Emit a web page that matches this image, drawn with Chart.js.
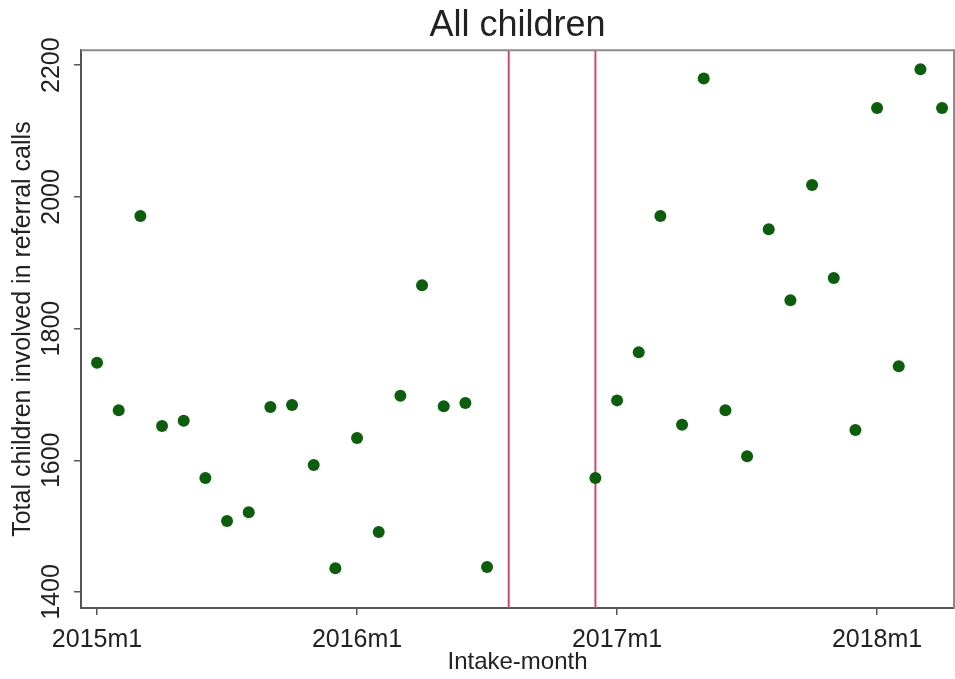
<!DOCTYPE html>
<html>
<head>
<meta charset="utf-8">
<script src="https://cdn.jsdelivr.net/npm/chart.js@4.4.1/dist/chart.umd.min.js"></script>
<style>
  html, body { margin: 0; padding: 0; background: #fff; }
  #wrap { width: 955px; height: 679px; }
</style>
</head>
<body>
<div id="wrap"><canvas id="c" width="955" height="679"></canvas></div>
<script>
// Month index (0 = 2015m1)
const monthIndex = [0,1,2,3,4,5,6,7,8,9,10,11,12,13,14,15,16,17,18,
                    23,24,25,26,27,28,29,30,31,32,33,34,35,36,37,38,39];
// Total children involved in referral calls
const childrenCounts = [1748,1676,1971,1652,1660,1573,1508,1521,1681,1684,1593,1436,1634,1491,1698,1866,1682,1687,1438,
                        1573,1691,1764,1971,1654,2180,1676,1606,1951,1843,2018,1877,1646,2135,1743,2194,2135];
const xTickMonths = [0, 12, 24, 36];
const xTickLabels = ['2015m1', '2016m1', '2017m1', '2018m1'];
const yTickValues = [1400, 1600, 1800, 2000, 2200];
const cutoffMonths = [19, 23];

const FONT = "'Liberation Sans', Arial, sans-serif";
const points = monthIndex.map((m, i) => ({ x: m, y: childrenCounts[i] }));

const framePlugin = {
  id: 'frame',
  beforeDatasetsDraw(chart) {
    const { ctx, chartArea: a, scales } = chart;
    ctx.save();
    ctx.strokeStyle = '#d2466f';
    ctx.lineWidth = 2;
    cutoffMonths.forEach(m => {
      const px = scales.x.getPixelForValue(m);
      ctx.beginPath();
      ctx.moveTo(px, a.top);
      ctx.lineTo(px, a.bottom);
      ctx.stroke();
    });
    ctx.restore();
  },
  afterDraw(chart) {
    const { ctx, chartArea: a, scales } = chart;
    ctx.save();
    ctx.strokeStyle = '#8c8c8c';
    ctx.lineWidth = 2;
    ctx.beginPath();
    ctx.moveTo(a.left, a.top);
    ctx.lineTo(a.right, a.top);
    ctx.lineTo(a.right, a.bottom);
    ctx.stroke();
    // rotated y tick labels
    ctx.fillStyle = '#222';
    ctx.font = '25px ' + FONT;
    ctx.textAlign = 'center';
    ctx.textBaseline = 'middle';
    yTickValues.forEach(v => {
      const py = scales.y.getPixelForValue(v);
      ctx.save();
      ctx.translate(52, py);
      ctx.rotate(-Math.PI / 2);
      ctx.fillText(String(v), 0, 0);
      ctx.restore();
    });
    ctx.restore();
  }
};

new Chart(document.getElementById('c'), {
  type: 'scatter',
  data: {
    datasets: [{
      data: points,
      backgroundColor: '#0b5e0b',
      borderColor: '#0b5e0b',
      pointRadius: 6,
      pointHoverRadius: 6,
      borderWidth: 0
    }]
  },
  options: {
    responsive: false,
    animation: false,
    layout: { autoPadding: false, padding: { left: 0, right: 1, top: 0, bottom: 0 } },
    plugins: {
      legend: { display: false },
      tooltip: { enabled: false },
      title: {
        display: true,
        fullSize: false,
        text: 'All children',
        color: '#222',
        font: { family: FONT, size: 36, weight: 'normal', lineHeight: 1.2 },
        padding: { top: 4, bottom: 3 }
      }
    },
    scales: {
      x: {
        type: 'linear',
        min: -0.74,
        max: 39.55,
        afterBuildTicks(scale) { scale.ticks = xTickMonths.map(v => ({ value: v })); },
        afterFit(scale) { scale.height = 71; scale.paddingRight = 0; scale.paddingLeft = 0; },
        ticks: {
          color: '#222',
          font: { family: FONT, size: 25 },
          padding: 10,
          maxRotation: 0,
          autoSkip: false,
          callback(v) { const i = xTickMonths.indexOf(v); return i >= 0 ? xTickLabels[i] : ''; }
        },
        grid: { display: true, drawOnChartArea: false, drawTicks: true, tickLength: 7, color: '#555', lineWidth: 1.5 },
        border: { display: true, color: '#555', width: 2 },
        title: {
          display: true,
          text: 'Intake-month',
          color: '#222',
          font: { family: FONT, size: 24, lineHeight: 1.2 },
          padding: { top: 0, bottom: 2 }
        }
      },
      y: {
        type: 'linear',
        min: 1375.7,
        max: 2222.8,
        afterBuildTicks(scale) { scale.ticks = yTickValues.map(v => ({ value: v })); },
        afterFit(scale) { scale.width = 81; },
        ticks: { display: false },
        grid: { display: true, drawOnChartArea: false, drawTicks: true, tickLength: 7, color: '#555', lineWidth: 1.5 },
        border: { display: true, color: '#555', width: 2 },
        title: {
          display: true,
          text: 'Total children involved in referral calls',
          color: '#222',
          font: { family: FONT, size: 25, lineHeight: 1.2 },
          padding: { top: 8, bottom: 0 }
        }
      }
    }
  },
  plugins: [framePlugin]
});
</script>
</body>
</html>
